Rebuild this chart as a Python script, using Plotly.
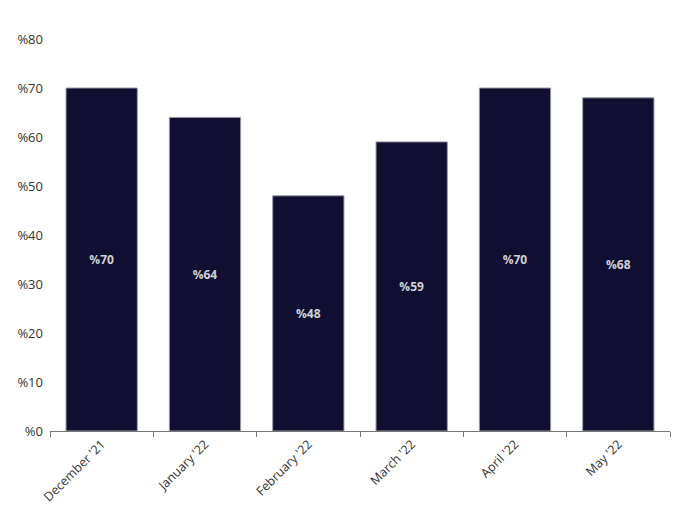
import plotly.graph_objects as go

categories = ["December '21", "January '22", "February '22", "March '22", "April '22", "May '22"]
values = [70, 64, 48, 59, 70, 68]
y_ticks = [0, 10, 20, 30, 40, 50, 60, 70, 80]
y_tick_labels = ["%" + str(v) for v in y_ticks]

fig = go.Figure(go.Bar(
    x=categories,
    y=values,
    text=["%" + str(v) for v in values],
    textposition="inside",
    insidetextanchor="middle",
    textfont=dict(family="Open Sans", size=12, color="#cfcfd6", weight="bold"),
    marker=dict(color="#100f31", line=dict(color="#9a9aa6", width=1)),
    hoverinfo="skip",
))

fig.update_layout(
    width=682, height=508,
    margin=dict(l=50, r=12, t=39, b=77),
    plot_bgcolor="white", paper_bgcolor="white",
    bargap=0.31,
    showlegend=False,
    font=dict(family="Open Sans", size=13, color="#333333"),
)
fig.update_xaxes(
    automargin=False,
    tickangle=-45,
    showline=True, linecolor="#777777", linewidth=1,
    ticks="outside", tickson="boundaries", ticklen=5, tickcolor="#777777",
    showgrid=False,
    tickfont=dict(size=12.5, color="#333333"),
)
fig.update_yaxes(
    automargin=False,
    range=[0, 80],
    tickvals=y_ticks, ticktext=y_tick_labels,
    showgrid=False, zeroline=False, showline=False,
    ticks="", ticklabelstandoff=6,
    tickfont=dict(size=13, color="#333333"),
)

fig.write_html("out.html", config={"displayModeBar": False},
               post_script="document.body.style.margin='0';")
